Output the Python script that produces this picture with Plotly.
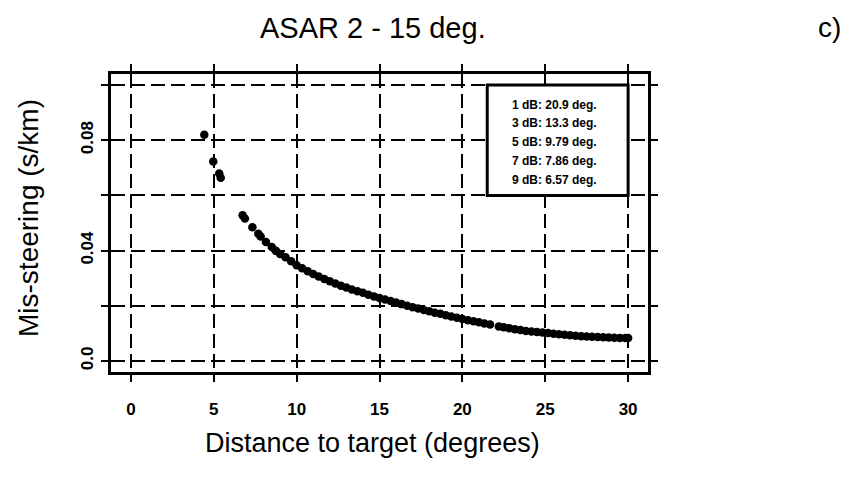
import plotly.graph_objects as go

# Data
distance_deg = [4.43, 4.97, 5.33, 5.42, 6.74, 6.88, 7.33, 7.69, 7.83, 8.15, 8.50, 8.75,
                9.0, 9.33, 9.67, 10.0, 10.33, 10.67, 11.0, 11.33, 11.67, 12.0, 12.33, 12.67,
                13.0, 13.33, 13.67, 14.0, 14.33, 14.67, 15.0, 15.33, 15.67, 16.0, 16.33, 16.67,
                17.0, 17.33, 17.67, 18.0, 18.33, 18.67, 19.0, 19.33, 19.67, 20.0, 20.33, 20.67,
                21.0, 21.33, 21.67, 22.2, 22.5, 22.83, 23.17, 23.5, 23.83, 24.17, 24.5, 24.83,
                25.17, 25.5, 25.83, 26.17, 26.5, 26.83, 27.17, 27.5, 27.83, 28.17, 28.5, 28.83,
                29.17, 29.5, 29.83, 30.0]
missteering = [0.0820, 0.0723, 0.0679, 0.0664, 0.0528, 0.0516, 0.0485, 0.0461, 0.0451, 0.0431, 0.0413, 0.0399,
               0.0388, 0.0376, 0.0361, 0.0347, 0.0336, 0.0325, 0.0315, 0.0306, 0.0297, 0.0289, 0.0281, 0.0273,
               0.0266, 0.0259, 0.0253, 0.0247, 0.0240, 0.0234, 0.0228, 0.0223, 0.0217, 0.0212, 0.0206, 0.0200,
               0.0195, 0.0190, 0.0185, 0.0180, 0.0175, 0.0171, 0.0166, 0.0161, 0.0157, 0.0152, 0.0148, 0.0144,
               0.0140, 0.0136, 0.0132, 0.0125, 0.0122, 0.0119, 0.0115, 0.0112, 0.0109, 0.0107, 0.0105, 0.0103,
               0.0101, 0.0099, 0.0097, 0.0095, 0.0093, 0.0091, 0.0090, 0.0089, 0.0088, 0.0087, 0.0086, 0.0085,
               0.0084, 0.0083, 0.0083, 0.0083]

x_ticks = [0, 5, 10, 15, 20, 25, 30]
x_tick_labels = ["0", "5", "10", "15", "20", "25", "30"]
y_ticks = [0.0, 0.02, 0.04, 0.06, 0.08, 0.10]
y_tick_labels = ["0.0", "", "0.04", "", "0.08", ""]

legend_lines = ["1 dB: 20.9 deg.", "3 dB: 13.3 deg.", "5 dB: 9.79 deg.",
                "7 dB: 7.86 deg.", "9 dB: 6.57 deg."]

FONT = "Liberation Sans, Arial, Helvetica, sans-serif"

fig = go.Figure()
fig.add_trace(go.Scatter(
    x=distance_deg, y=missteering, mode="markers",
    marker=dict(color="black", size=8.5, line=dict(width=0)),
    showlegend=False, hoverinfo="x+y"))

axis_common = dict(
    showline=True, linecolor="black", linewidth=3, mirror="allticks",
    ticks="outside", ticklen=7, tickwidth=2, tickcolor="black",
    showgrid=True, gridcolor="black", gridwidth=1.6, griddash="14px,6px",
    zeroline=False,
)

fig.update_xaxes(
    range=[-1.2, 31.2], tickvals=x_ticks, ticktext=x_tick_labels,
    tickfont=dict(family=FONT, size=17, color="black", weight="bold"),
    ticklabelstandoff=13, **axis_common)
fig.update_yaxes(
    range=[-0.004, 0.104], tickvals=y_ticks, ticktext=y_tick_labels,
    tickangle=-90,
    tickfont=dict(family=FONT, size=17, color="black", weight="bold"),
    ticklabelstandoff=1, **axis_common)

# Legend box (top right, in data coordinates)
fig.add_shape(type="rect", xref="x", yref="y", x0=21.5, x1=30.0, y0=0.060, y1=0.100,
              fillcolor="white", line=dict(color="black", width=3), layer="above")

line_y = [0.0927, 0.0861, 0.0795, 0.0726, 0.0657]
for txt, yy in zip(legend_lines, line_y):
    fig.add_annotation(x=22.9, y=yy, xref="x", yref="y", text=txt, showarrow=False,
                       xanchor="left", yanchor="middle",
                       font=dict(family=FONT, size=12, color="black", weight="bold"))

# Titles (positions given in pixels from the top-left, converted below)
L, R, T, B = 111, 218, 74, 107
W, H = 866, 479
pw, ph = W - L - R, H - T - B


def px_ann(px, py, text, size, angle=0):
    fig.add_annotation(x=(px - L) / pw, y=((H - py) - B) / ph, xref="paper", yref="paper",
                       text=text, showarrow=False, textangle=angle,
                       xanchor="center", yanchor="middle",
                       font=dict(family=FONT, size=size, color="black"))


px_ann(373, 28, "ASAR 2 - 15 deg.", 29)
px_ann(829, 28, "c)", 28)
px_ann(372, 443, "Distance to target (degrees)", 27)
px_ann(28, 218, "Mis-steering (s/km)", 28, angle=-90)

fig.update_layout(
    width=W, height=H, margin=dict(l=L, r=R, t=T, b=B),
    paper_bgcolor="white", plot_bgcolor="white",
    font=dict(family=FONT, color="black"),
)

fig.write_html("out.html")
